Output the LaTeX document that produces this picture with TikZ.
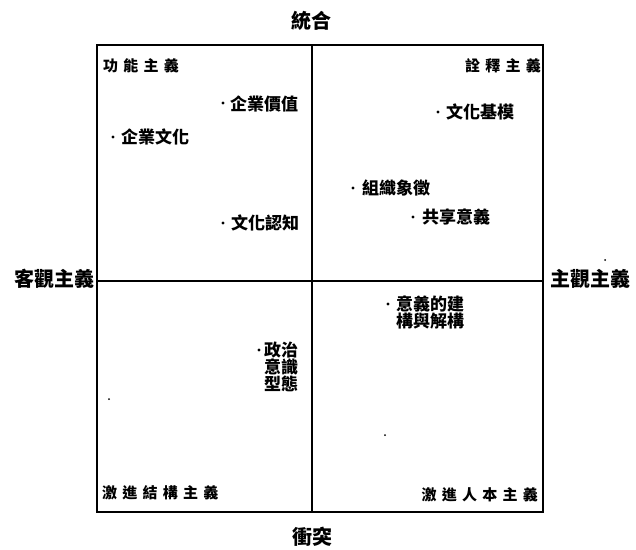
\documentclass[tikz,border=0pt]{standalone}
\usepackage{fontspec}
\newfontfamily\cjk{Noto Sans CJK TC}
\newfontfamily\cjkwide{Noto Sans CJK TC}[LetterSpace=35]
\begin{document}
\begin{tikzpicture}[x=1pt,y=-1pt,
  axislabel/.style={inner sep=0pt, font=\cjk\bfseries\fontsize{20}{20}\selectfont},
  quadlabel/.style={inner sep=0pt, font=\cjkwide\bfseries\fontsize{15}{15}\selectfont},
  itemtext/.style={inner sep=0pt, anchor=west, align=left, font=\cjk\bfseries\fontsize{17}{18}\selectfont},
  itemdot/.style={circle, fill=black, inner sep=0pt, minimum size=3.2pt},
  speck/.style={circle, fill=black, inner sep=0pt, minimum size=2pt},
  frame/.style={line width=2.2pt},
  divider/.style={line width=1.4pt}]
\useasboundingbox (0,0) rectangle (636,549);
% frame and axes
\coordinate (TL) at (97,45);
\coordinate (BR) at (543,512);
\coordinate (T) at (312,45);
\coordinate (B) at (312,512);
\coordinate (L) at (97,281);
\coordinate (R) at (543,281);
\draw[divider] (T) -- (B);
\draw[divider] (L) -- (R);
\draw[frame] (TL) rectangle (BR);
% axis labels
\node[axislabel] (top) at (311,21) {統合};
\node[axislabel] (bottom) at (312,537) {衝突};
\node[axislabel, anchor=east] (left) at (95,279) {客觀主義};
\node[axislabel, anchor=west] (right) at (550,279) {主觀主義};
% quadrant labels
\node[quadlabel, anchor=west] (q1) at (103,66) {功能主義};
\node[quadlabel, anchor=east] (q2) at (541,66) {詮釋主義};
\node[quadlabel, anchor=west] (q3) at (102,493) {激進結構主義};
\node[quadlabel, anchor=east] (q4) at (538,495) {激進人本主義};
% items
\node[itemdot] (d1) at (223,103) {};
\node[itemtext] (i1) at (230,104) {企業價值};
\node[itemdot] (d2) at (113,137) {};
\node[itemtext] (i2) at (121,137) {企業文化};
\node[itemdot] (d3) at (438,112) {};
\node[itemtext] (i3) at (446,112) {文化基模};
\node[itemdot] (d4) at (353,188) {};
\node[itemtext] (i4) at (362,188) {組織象徵};
\node[itemdot] (d5) at (413,217) {};
\node[itemtext] (i5) at (422,217) {共享意義};
\node[itemdot] (d6) at (223,223) {};
\node[itemtext] (i6) at (231,223) {文化認知};
\node[itemdot] (d7) at (388,304) {};
\node[itemtext, anchor=north west] (i7) at (396,296) {意義的建\\[-1pt]構與解構};
\node[itemdot] (d8) at (259,350) {};
\node[itemtext, anchor=north west, font=\cjk\bfseries\fontsize{17}{17}\selectfont] (i8) at (264,342) {政治\\意識\\型態};
% specks
\node[speck] (s1) at (109,399) {};
\node[speck] (s2) at (385,435) {};
\node[speck] (s3) at (605,260) {};
\end{tikzpicture}
\end{document}
